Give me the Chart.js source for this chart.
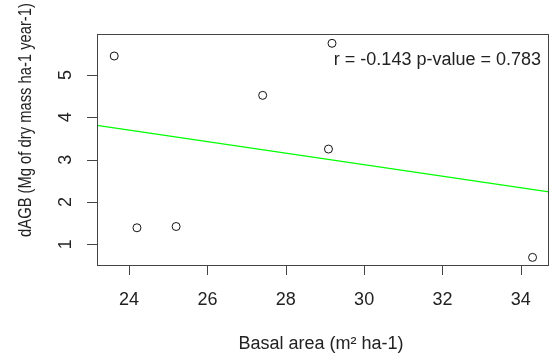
<!DOCTYPE html>
<html>
<head>
<meta charset="utf-8">
<script src="https://cdn.jsdelivr.net/npm/chart.js@4/dist/chart.umd.min.js"></script>
<style>
  body { margin: 0; background: #fff; }
  canvas { display: block; }
</style>
</head>
<body>
<canvas id="plot" width="554" height="356"></canvas>
<script>
// values
const basalArea = [23.62, 24.2, 25.2, 27.41, 29.09, 29.18, 34.3];
const dAGB = [5.45, 1.39, 1.42, 4.52, 3.25, 5.75, 0.69];

// fitted line, ends at the plot edges
const fitX = [23.18, 34.72];
const fitY = [3.81, 2.24];

const xTicks = [24, 26, 28, 30, 32, 34];
const yTicks = [1, 2, 3, 4, 5];

const xTitle = "Basal area (m² ha-1)";
const yTitle = "dAGB (Mg of dry mass ha-1 year-1)";
const statsText = "r = -0.143 p-value = 0.783";

const font = '18px "Liberation Sans", Arial, sans-serif';

// draws an R-like box, ticks and labels
const rAxes = {
  id: "rAxes",
  afterDraw(chart) {
    const { ctx, chartArea: a, scales } = chart;
    const sx = scales.x, sy = scales.y;
    ctx.save();
    ctx.strokeStyle = "#444";
    ctx.lineWidth = 1;
    ctx.strokeRect(a.left + 0.5, a.top + 0.5, a.right - a.left - 1, a.bottom - a.top);

    ctx.beginPath();
    xTicks.forEach((t) => {
      const px = Math.round(sx.getPixelForValue(t)) + 0.5;
      ctx.moveTo(px, a.bottom);
      ctx.lineTo(px, a.bottom + 10);
    });
    yTicks.forEach((t) => {
      const py = Math.round(sy.getPixelForValue(t)) + 0.5;
      ctx.moveTo(a.left, py);
      ctx.lineTo(a.left - 10, py);
    });
    ctx.stroke();

    ctx.fillStyle = "#222";
    ctx.font = font;
    ctx.textAlign = "center";
    ctx.textBaseline = "middle";
    xTicks.forEach((t) => ctx.fillText(String(t), sx.getPixelForValue(t), 300));
    ctx.fillText(xTitle, 321, 344);

    yTicks.forEach((t) => {
      ctx.save();
      ctx.translate(66, sy.getPixelForValue(t));
      ctx.rotate(-Math.PI / 2);
      ctx.fillText(String(t), 0, 0);
      ctx.restore();
    });

    ctx.save();
    ctx.translate(26, 120);
    ctx.rotate(-Math.PI / 2);
    ctx.scale(0.82, 1);
    ctx.fillText(yTitle, 0, 0);
    ctx.restore();

    ctx.textAlign = "right";
    ctx.fillText(statsText, 541, 60);
    ctx.restore();
  },
};

new Chart(document.getElementById("plot"), {
  type: "scatter",
  data: {
    datasets: [
      {
        data: basalArea.map((x, i) => ({ x, y: dAGB[i] })),
        pointStyle: "circle",
        radius: 4,
        borderColor: "#111",
        borderWidth: 1,
        backgroundColor: "rgba(0,0,0,0)",
      },
      {
        type: "line",
        data: fitX.map((x, i) => ({ x, y: fitY[i] })),
        borderColor: "#00ff00",
        borderWidth: 1.3,
        pointRadius: 0,
        fill: false,
      },
    ],
  },
  options: {
    responsive: false,
    animation: false,
    layout: { padding: { left: 97, right: 3, top: 34, bottom: 91 } },
    plugins: { legend: { display: false }, tooltip: { enabled: false } },
    scales: {
      x: { type: "linear", min: 23.18, max: 34.72, display: false },
      y: { type: "linear", min: 0.51, max: 5.97, display: false },
    },
  },
  plugins: [rAxes],
});
</script>
</body>
</html>
